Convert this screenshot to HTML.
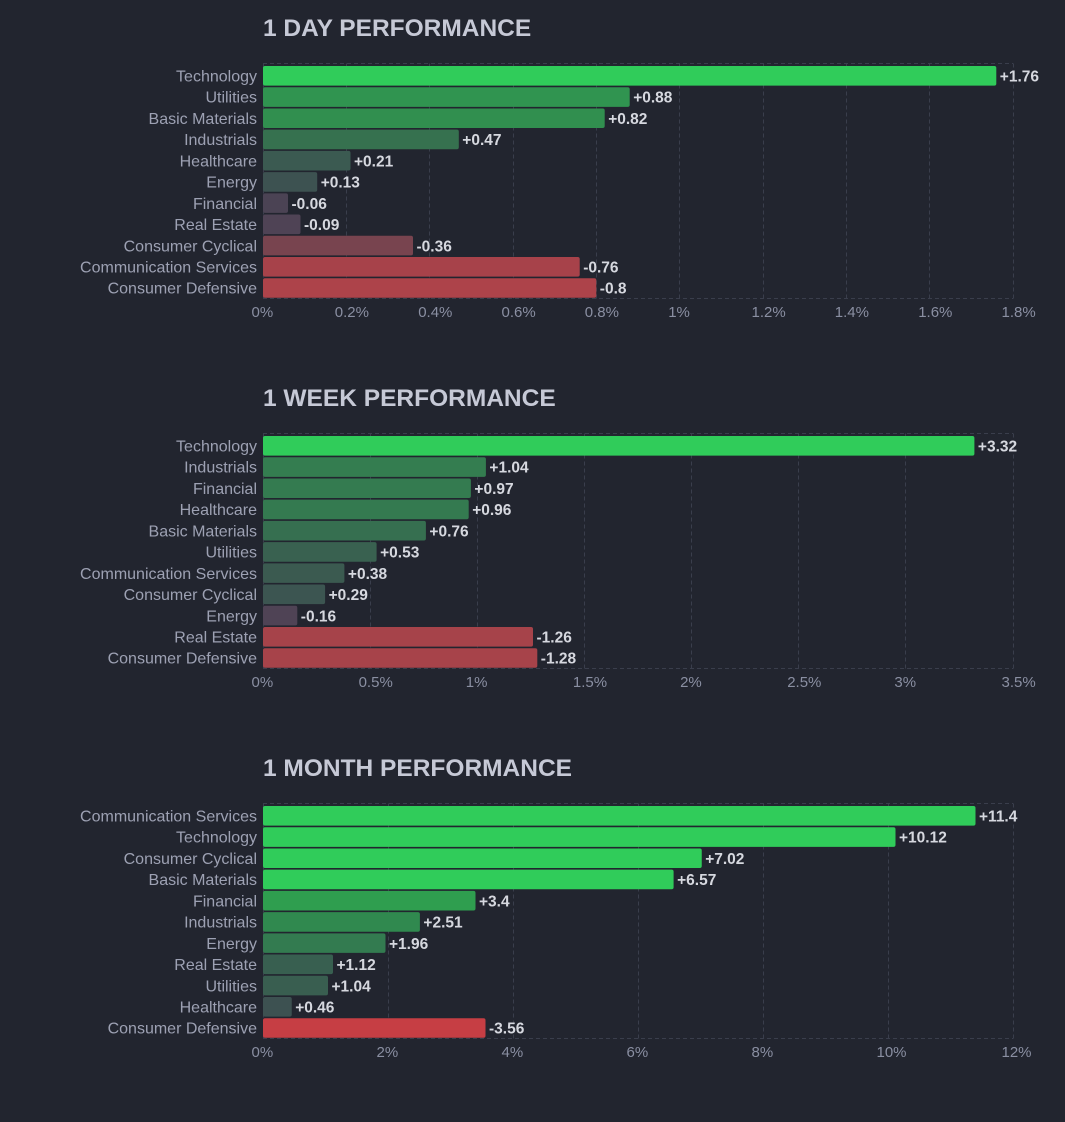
<!DOCTYPE html>
<html><head><meta charset="utf-8"><style>
html,body{margin:0;padding:0;background:#22252f;}
svg{display:block;}
.t{font-family:"Liberation Sans",sans-serif;font-weight:bold;font-size:24.5px;fill:#c6c9d6;}
.c{font-family:"Liberation Sans",sans-serif;font-size:16px;fill:#9da1b3;text-anchor:end;}
.v{font-family:"Liberation Sans",sans-serif;font-weight:bold;font-size:15.5px;fill:#d6d8df;}
.k{font-family:"Liberation Sans",sans-serif;font-size:15px;fill:#8a8fa2;}
.g{stroke:#3a3e4c;stroke-width:1;stroke-dasharray:4 3;fill:none;}
</style></head><body>
<svg width="1065" height="1122" viewBox="0 0 1065 1122" xmlns="http://www.w3.org/2000/svg">
<rect width="1065" height="1122" fill="#22252f"/>

<!-- 1 DAY -->
<g>
<text class="t" x="263" y="36">1 DAY PERFORMANCE</text>
<line class="g" x1="263" y1="63.5" x2="1013" y2="63.5"/>
<line class="g" x1="263" y1="298.5" x2="1013" y2="298.5"/>
<line class="g" x1="263.5" y1="63.5" x2="263.5" y2="298.5"/>
<line class="g" x1="346.5" y1="63.5" x2="346.5" y2="298.5"/>
<line class="g" x1="429.5" y1="63.5" x2="429.5" y2="298.5"/>
<line class="g" x1="513.5" y1="63.5" x2="513.5" y2="298.5"/>
<line class="g" x1="596.5" y1="63.5" x2="596.5" y2="298.5"/>
<line class="g" x1="679.5" y1="63.5" x2="679.5" y2="298.5"/>
<line class="g" x1="763.5" y1="63.5" x2="763.5" y2="298.5"/>
<line class="g" x1="846.5" y1="63.5" x2="846.5" y2="298.5"/>
<line class="g" x1="929.5" y1="63.5" x2="929.5" y2="298.5"/>
<line class="g" x1="1013.5" y1="63.5" x2="1013.5" y2="298.5"/>

<rect x="263" y="66" width="733.3" height="19.6" rx="2" fill="#30cc5a"/>
<rect x="263" y="87.22" width="366.7" height="19.6" rx="2" fill="#309450"/>
<rect x="263" y="108.44" width="341.7" height="19.6" rx="2" fill="#318f4f"/>
<rect x="263" y="129.66" width="195.8" height="19.6" rx="2" fill="#36714f"/>
<rect x="263" y="150.88" width="87.5" height="19.6" rx="2" fill="#3b5a51"/>
<rect x="263" y="172.1" width="54.2" height="19.6" rx="2" fill="#3d5251"/>
<rect x="263" y="193.32" width="25" height="19.6" rx="2" fill="#4b4354"/>
<rect x="263" y="214.54" width="37.5" height="19.6" rx="2" fill="#4f4355"/>
<rect x="263" y="235.76" width="150" height="19.6" rx="2" fill="#78444f"/>
<rect x="263" y="256.98" width="316.7" height="19.6" rx="2" fill="#a7424a"/>
<rect x="263" y="278.2" width="333.3" height="19.6" rx="2" fill="#ad434a"/>

<text class="c" x="257" y="81.5">Technology</text>
<text class="c" x="257" y="102.7">Utilities</text>
<text class="c" x="257" y="123.9">Basic Materials</text>
<text class="c" x="257" y="145.2">Industrials</text>
<text class="c" x="257" y="166.4">Healthcare</text>
<text class="c" x="257" y="187.6">Energy</text>
<text class="c" x="257" y="208.8">Financial</text>
<text class="c" x="257" y="230">Real Estate</text>
<text class="c" x="257" y="251.3">Consumer Cyclical</text>
<text class="c" x="257" y="272.5">Communication Services</text>
<text class="c" x="257" y="293.7">Consumer Defensive</text>

<text class="v" x="999.8" y="81.5">+1.76</text>
<text class="v" x="633.2" y="102.7">+0.88</text>
<text class="v" x="608.2" y="123.9">+0.82</text>
<text class="v" x="462.3" y="145.2">+0.47</text>
<text class="v" x="354" y="166.4">+0.21</text>
<text class="v" x="320.7" y="187.6">+0.13</text>
<text class="v" x="291.5" y="208.8">-0.06</text>
<text class="v" x="304" y="230">-0.09</text>
<text class="v" x="416.5" y="251.3">-0.36</text>
<text class="v" x="583.2" y="272.5">-0.76</text>
<text class="v" x="599.8" y="293.7">-0.8</text>

<text class="k" x="251.5" y="317">0%</text>
<text class="k" x="334.8" y="317">0.2%</text>
<text class="k" x="418.2" y="317">0.4%</text>
<text class="k" x="501.5" y="317">0.6%</text>
<text class="k" x="584.8" y="317">0.8%</text>
<text class="k" x="668.2" y="317">1%</text>
<text class="k" x="751.5" y="317">1.2%</text>
<text class="k" x="834.8" y="317">1.4%</text>
<text class="k" x="918.2" y="317">1.6%</text>
<text class="k" x="1001.5" y="317">1.8%</text>
</g>

<!-- 1 WEEK -->
<g transform="translate(0,370)">
<text class="t" x="263" y="36">1 WEEK PERFORMANCE</text>
<line class="g" x1="263" y1="63.5" x2="1013" y2="63.5"/>
<line class="g" x1="263" y1="298.5" x2="1013" y2="298.5"/>
<line class="g" x1="263.5" y1="63.5" x2="263.5" y2="298.5"/>
<line class="g" x1="370.5" y1="63.5" x2="370.5" y2="298.5"/>
<line class="g" x1="477.5" y1="63.5" x2="477.5" y2="298.5"/>
<line class="g" x1="584.5" y1="63.5" x2="584.5" y2="298.5"/>
<line class="g" x1="691.5" y1="63.5" x2="691.5" y2="298.5"/>
<line class="g" x1="798.5" y1="63.5" x2="798.5" y2="298.5"/>
<line class="g" x1="905.5" y1="63.5" x2="905.5" y2="298.5"/>
<line class="g" x1="1013.5" y1="63.5" x2="1013.5" y2="298.5"/>

<rect x="263" y="66" width="711.4" height="19.6" rx="2" fill="#30cc5a"/>
<rect x="263" y="87.22" width="222.9" height="19.6" rx="2" fill="#347d50"/>
<rect x="263" y="108.44" width="207.9" height="19.6" rx="2" fill="#347b50"/>
<rect x="263" y="129.66" width="205.7" height="19.6" rx="2" fill="#347a50"/>
<rect x="263" y="150.88" width="162.9" height="19.6" rx="2" fill="#366f50"/>
<rect x="263" y="172.1" width="113.6" height="19.6" rx="2" fill="#396150"/>
<rect x="263" y="193.32" width="81.4" height="19.6" rx="2" fill="#3b5a50"/>
<rect x="263" y="214.54" width="62.1" height="19.6" rx="2" fill="#3c5551"/>
<rect x="263" y="235.76" width="34.3" height="19.6" rx="2" fill="#4f4355"/>
<rect x="263" y="256.98" width="270" height="19.6" rx="2" fill="#a6434a"/>
<rect x="263" y="278.2" width="274.3" height="19.6" rx="2" fill="#a7434a"/>

<text class="c" x="257" y="81.5">Technology</text>
<text class="c" x="257" y="102.7">Industrials</text>
<text class="c" x="257" y="123.9">Financial</text>
<text class="c" x="257" y="145.2">Healthcare</text>
<text class="c" x="257" y="166.4">Basic Materials</text>
<text class="c" x="257" y="187.6">Utilities</text>
<text class="c" x="257" y="208.8">Communication Services</text>
<text class="c" x="257" y="230">Consumer Cyclical</text>
<text class="c" x="257" y="251.3">Energy</text>
<text class="c" x="257" y="272.5">Real Estate</text>
<text class="c" x="257" y="293.7">Consumer Defensive</text>

<text class="v" x="977.9" y="81.5">+3.32</text>
<text class="v" x="489.4" y="102.7">+1.04</text>
<text class="v" x="474.4" y="123.9">+0.97</text>
<text class="v" x="472.2" y="145.2">+0.96</text>
<text class="v" x="429.4" y="166.4">+0.76</text>
<text class="v" x="380.1" y="187.6">+0.53</text>
<text class="v" x="347.9" y="208.8">+0.38</text>
<text class="v" x="328.6" y="230">+0.29</text>
<text class="v" x="300.8" y="251.3">-0.16</text>
<text class="v" x="536.5" y="272.5">-1.26</text>
<text class="v" x="540.8" y="293.7">-1.28</text>

<text class="k" x="251.5" y="317">0%</text>
<text class="k" x="358.6" y="317">0.5%</text>
<text class="k" x="465.8" y="317">1%</text>
<text class="k" x="572.9" y="317">1.5%</text>
<text class="k" x="680.1" y="317">2%</text>
<text class="k" x="787.2" y="317">2.5%</text>
<text class="k" x="894.4" y="317">3%</text>
<text class="k" x="1001.5" y="317">3.5%</text>
</g>

<!-- 1 MONTH -->
<g transform="translate(0,740)">
<text class="t" x="263" y="36">1 MONTH PERFORMANCE</text>
<line class="g" x1="263" y1="63.5" x2="1013" y2="63.5"/>
<line class="g" x1="263" y1="298.5" x2="1013" y2="298.5"/>
<line class="g" x1="263.5" y1="63.5" x2="263.5" y2="298.5"/>
<line class="g" x1="388.5" y1="63.5" x2="388.5" y2="298.5"/>
<line class="g" x1="513.5" y1="63.5" x2="513.5" y2="298.5"/>
<line class="g" x1="638.5" y1="63.5" x2="638.5" y2="298.5"/>
<line class="g" x1="763.5" y1="63.5" x2="763.5" y2="298.5"/>
<line class="g" x1="888.5" y1="63.5" x2="888.5" y2="298.5"/>
<line class="g" x1="1013.5" y1="63.5" x2="1013.5" y2="298.5"/>

<rect x="263" y="66" width="712.5" height="19.6" rx="2" fill="#30cc5a"/>
<rect x="263" y="87.22" width="632.5" height="19.6" rx="2" fill="#30cc5a"/>
<rect x="263" y="108.44" width="438.75" height="19.6" rx="2" fill="#30cc5a"/>
<rect x="263" y="129.66" width="410.6" height="19.6" rx="2" fill="#30cc5a"/>
<rect x="263" y="150.88" width="212.5" height="19.6" rx="2" fill="#2f9e4f"/>
<rect x="263" y="172.1" width="156.9" height="19.6" rx="2" fill="#30894f"/>
<rect x="263" y="193.32" width="122.5" height="19.6" rx="2" fill="#337b50"/>
<rect x="263" y="214.54" width="70" height="19.6" rx="2" fill="#385f50"/>
<rect x="263" y="235.76" width="65" height="19.6" rx="2" fill="#395e50"/>
<rect x="263" y="256.98" width="28.75" height="19.6" rx="2" fill="#3d5151"/>
<rect x="263" y="278.2" width="222.5" height="19.6" rx="2" fill="#c63e44"/>

<text class="c" x="257" y="81.5">Communication Services</text>
<text class="c" x="257" y="102.7">Technology</text>
<text class="c" x="257" y="123.9">Consumer Cyclical</text>
<text class="c" x="257" y="145.2">Basic Materials</text>
<text class="c" x="257" y="166.4">Financial</text>
<text class="c" x="257" y="187.6">Industrials</text>
<text class="c" x="257" y="208.8">Energy</text>
<text class="c" x="257" y="230">Real Estate</text>
<text class="c" x="257" y="251.3">Utilities</text>
<text class="c" x="257" y="272.5">Healthcare</text>
<text class="c" x="257" y="293.7">Consumer Defensive</text>

<text class="v" x="979" y="81.5">+11.4</text>
<text class="v" x="899" y="102.7">+10.12</text>
<text class="v" x="705.2" y="123.9">+7.02</text>
<text class="v" x="677.1" y="145.2">+6.57</text>
<text class="v" x="479" y="166.4">+3.4</text>
<text class="v" x="423.4" y="187.6">+2.51</text>
<text class="v" x="389" y="208.8">+1.96</text>
<text class="v" x="336.5" y="230">+1.12</text>
<text class="v" x="331.5" y="251.3">+1.04</text>
<text class="v" x="295.2" y="272.5">+0.46</text>
<text class="v" x="489" y="293.7">-3.56</text>

<text class="k" x="251.5" y="317">0%</text>
<text class="k" x="376.5" y="317">2%</text>
<text class="k" x="501.5" y="317">4%</text>
<text class="k" x="626.5" y="317">6%</text>
<text class="k" x="751.5" y="317">8%</text>
<text class="k" x="876.5" y="317">10%</text>
<text class="k" x="1001.5" y="317">12%</text>
</g>
</svg>
</body></html>
